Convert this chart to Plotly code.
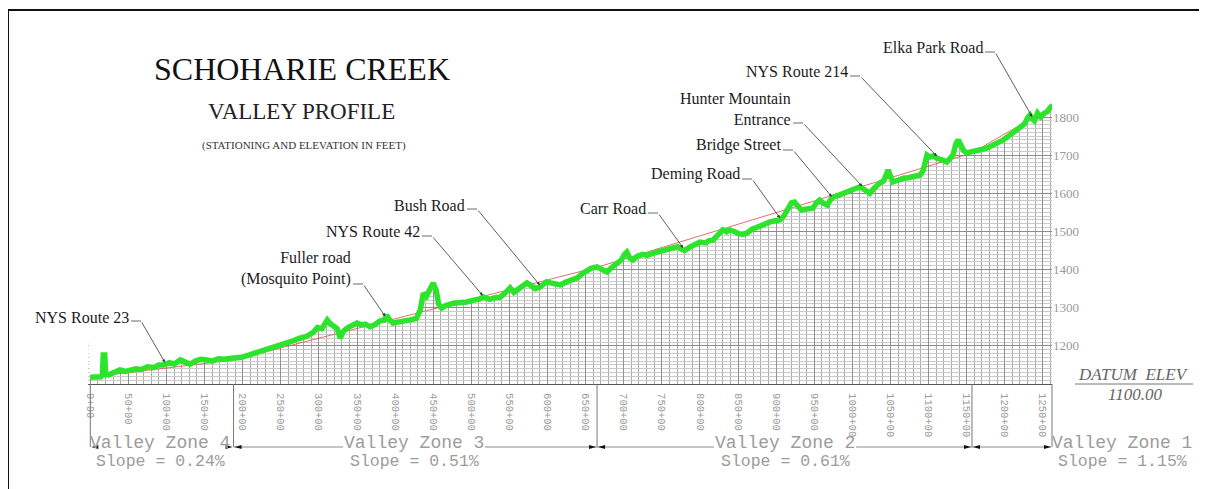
import plotly.graph_objects as go
import numpy as np

# ---------------- data ----------------
stations = [0, 8, 14, 16, 17, 19, 20, 24, 30, 39, 46, 52, 60, 67, 75, 83, 90, 96, 104, 110,
            118, 124, 131, 138, 145, 153, 160, 168, 176, 188, 198, 208, 218, 227, 236, 246,
            258, 266, 275, 284, 293, 298, 304, 311, 315, 319, 324, 328, 332, 337, 343, 350,
            356, 361, 367, 373, 380, 386, 389, 392, 397, 405, 412, 420, 428, 433, 437, 441,
            446, 450, 454, 457, 461, 466, 476, 485, 494, 503, 510, 516, 524, 531, 538, 544,
            551, 556, 561, 566, 573, 579, 584, 590, 595, 599, 604, 610, 617, 625, 632, 639,
            646, 652, 657, 665, 671, 678, 684, 691, 697, 701, 704, 708, 712, 718, 725, 731,
            738, 745, 752, 758, 765, 771, 776, 780, 786, 792, 800, 807, 812, 817, 822, 826,
            830, 835, 839, 845, 851, 857, 862, 868, 874, 879, 886, 892, 899, 905, 910, 915,
            920, 924, 929, 933, 938, 944, 948, 953, 957, 962, 967, 971, 975, 982, 988, 993,
            999, 1005, 1010, 1014, 1019, 1023, 1028, 1032, 1036, 1041, 1045, 1047, 1050, 1053,
            1058, 1064, 1068, 1072, 1078, 1084, 1089, 1093, 1096, 1098, 1102, 1106, 1111, 1116,
            1120, 1124, 1128, 1132, 1136, 1139, 1142, 1146, 1150, 1156, 1162, 1168, 1177, 1184,
            1191, 1198, 1205, 1212, 1220, 1226, 1230, 1233, 1236, 1239, 1243, 1247, 1251, 1256,
            1260, 1263]
elevations = [1118, 1120, 1119, 1125, 1176, 1176, 1125, 1124, 1128, 1137, 1133, 1136, 1140, 1138,
              1145, 1143, 1150, 1150, 1156, 1152, 1163, 1158, 1152, 1160, 1165, 1163, 1160, 1166,
              1165, 1168, 1170, 1176, 1182, 1189, 1192, 1200, 1207, 1213, 1220, 1225, 1236, 1248,
              1245, 1268, 1258, 1250, 1245, 1220, 1238, 1247, 1252, 1260, 1255, 1257, 1250, 1255,
              1265, 1268, 1281, 1270, 1260, 1262, 1263, 1268, 1272, 1294, 1338, 1330, 1350, 1365,
              1345, 1310, 1299, 1305, 1312, 1312, 1315, 1320, 1322, 1328, 1322, 1326, 1328, 1338,
              1352, 1340, 1350, 1355, 1365, 1358, 1350, 1354, 1362, 1368, 1365, 1364, 1360, 1368,
              1373, 1378, 1390, 1397, 1403, 1407, 1400, 1394, 1405, 1417, 1425, 1440, 1446, 1430,
              1425, 1435, 1440, 1437, 1443, 1447, 1450, 1454, 1456, 1460, 1453, 1450, 1458, 1465,
              1472, 1470, 1476, 1477, 1488, 1496, 1504, 1499, 1504, 1500, 1494, 1493, 1496, 1505,
              1510, 1517, 1522, 1525, 1528, 1530, 1540, 1560, 1575, 1577, 1565, 1556, 1558, 1560,
              1561, 1575, 1582, 1574, 1569, 1582, 1590, 1595, 1600, 1603, 1608, 1612, 1617, 1612,
              1604, 1600, 1612, 1622, 1627, 1632, 1650, 1661, 1645, 1630, 1633, 1638, 1640, 1640,
              1643, 1646, 1648, 1660, 1690, 1700, 1695, 1698, 1692, 1690, 1686, 1682, 1690, 1700,
              1730, 1740, 1728, 1712, 1706, 1708, 1712, 1714, 1719, 1725, 1732, 1740, 1750, 1760,
              1771, 1782, 1798, 1805, 1795, 1790, 1810, 1800, 1808, 1815, 1825, 1831]

trend_stations = [0, 188, 665, 1157, 1262]
trend_elevations = [1118, 1163, 1406, 1706, 1827]

landmark_names = ["NYS Route 23", "Fuller road<br>(Mosquito Point)", "NYS Route 42", "Bush Road",
                  "Carr Road", "Deming Road", "Bridge Street", "Hunter Mountain<br>Entrance",
                  "NYS Route 214", "Elka Park Road"]
landmark_stations = [98, 387, 515, 590, 778, 905, 973, 1013, 1111, 1236]

tick_stations = list(range(0, 1251, 50))
tick_labels = [f"{s}+00" for s in tick_stations]
elev_ticks = list(range(1200, 1801, 100))

zone_names = ["Valley Zone 4", "Valley Zone 3", "Valley Zone 2", "Valley Zone 1"]
zone_slopes = ["Slope = 0.24%", "Slope = 0.51%", "Slope = 0.61%", "Slope = 1.15%"]
zone_bounds = [0, 188, 665, 1157, 1262]

# ---------------- layout geometry (screen pixels) ----------------
OFF = 8                      # page body margin offsets the figure
W, H = 1207 - OFF, 489 - OFF
PL, PR, PT, PB = 88, 1052, 12, 384
X0, X1 = -3, 1262
PX_PER_FT = 267 / 700
Y0 = 1100
Y1 = Y0 + (PB - PT) / PX_PER_FT


def sx(st):
    return PL + (st - X0) * (PR - PL) / (X1 - X0)


def px2st(px):
    return X0 + (px - PL) * (X1 - X0) / (PR - PL)


def py2el(py):
    return Y0 + (PB - py) / PX_PER_FT


def xp(px):
    return (px - PL) / (PR - PL)


def yp(py):
    return (PB - py) / (PB - PT)


SERIF = "Liberation Serif"
CAD = "Liberation Mono"
CAD_COLOR = "#9c9c9c"

fig = go.Figure()

# white mask hides the grid above the profile
fig.add_trace(go.Scatter(
    x=stations + [X1 + 30, X0 - 30], y=elevations + [Y1 + 200, Y1 + 200],
    fill="toself", fillcolor="white", mode="lines", line=dict(width=0),
    hoverinfo="skip"))

fig.add_trace(go.Scatter(x=trend_stations, y=trend_elevations, mode="lines",
                         line=dict(color="#e04848", width=0.8), hoverinfo="skip"))

fig.add_trace(go.Scatter(x=stations, y=elevations, mode="lines",
                         line=dict(color="#2de42d", width=5.5), cliponaxis=False))

ann = []
shapes = []

# titles
ann.append(dict(text="SCHOHARIE CREEK", x=xp(302), y=yp(69), font=dict(family=SERIF, size=32, color="#111")))
ann.append(dict(text="VALLEY PROFILE", x=xp(301), y=yp(111), font=dict(family=SERIF, size=23, color="#222")))
ann.append(dict(text="(STATIONING AND ELEVATION IN FEET)", x=xp(304), y=yp(145),
                font=dict(family=SERIF, size=11, color="#333")))

# landmark labels + leaders
label_right_px = [131, 353, 422, 467, 648, 742, 783, 793, 850, 985]
label_mid_py = [317, 268, 232, 205, 208, 174, 145, 108.5, 72, 47]
underline_py = [321, 284, 236, 209, 213, 179, 150, 123, 76, 52]
tip_elev = np.interp(landmark_stations, stations, elevations)
for name, st, el, r, m, u in zip(landmark_names, landmark_stations, tip_elev,
                                 label_right_px, label_mid_py, underline_py):
    ann.append(dict(text=name, x=xp(r), y=yp(m), xanchor="right", yanchor="middle", align="right",
                    font=dict(family=SERIF, size=16, color="#1c1c1c")))
    shapes.append(dict(type="line", xref="paper", yref="paper", x0=xp(r), x1=xp(r + 10),
                       y0=yp(u), y1=yp(u), line=dict(color="#444", width=0.8)))
    ann.append(dict(text="", x=st, y=el + 5, xref="x", yref="y",
                    ax=px2st(r + 10), ay=py2el(u), axref="x", ayref="y",
                    showarrow=True, arrowhead=2, arrowsize=0.8, arrowwidth=0.8,
                    arrowcolor="#333", standoff=0))

# valley zones below the axis
DIM_PY = 447
zone_text_cx = [160, 414, 785, 1122]
for i, (zn, zs) in enumerate(zip(zone_names, zone_slopes)):
    b0, b1 = sx(zone_bounds[i]), sx(zone_bounds[i + 1])
    cx = zone_text_cx[i]
    ann.append(dict(text=zn, x=xp(cx), y=yp(443), font=dict(family=CAD, size=18, color=CAD_COLOR)))
    ann.append(dict(text=zs, x=xp(cx), y=yp(461), font=dict(family=CAD, size=16.5, color=CAD_COLOR)))
    segs = [(b0, min(cx - 71, b1)), (max(cx + 71, b0), b1)]
    for a, b in segs:
        if b - a > 3:
            shapes.append(dict(type="line", xref="paper", yref="paper", x0=xp(a), x1=xp(b),
                               y0=yp(DIM_PY), y1=yp(DIM_PY), line=dict(color="#8a8a8a", width=1)))
    for tip, d in ((b0 + 1, 1), (b1 - 1, -1)):
        path = (f"M {xp(tip)} {yp(DIM_PY)} L {xp(tip + d * 7)} {yp(DIM_PY - 2)} "
                f"L {xp(tip + d * 7)} {yp(DIM_PY + 2)} Z")
        shapes.append(dict(type="path", xref="paper", yref="paper", path=path,
                           fillcolor="#111", line=dict(width=0)))
for b in zone_bounds:
    shapes.append(dict(type="line", xref="paper", yref="paper", x0=xp(sx(b)), x1=xp(sx(b)),
                       y0=yp(PB), y1=yp(DIM_PY), line=dict(color="#777", width=1)))

# datum
ann.append(dict(text="<i>DATUM\u00a0\u00a0ELEV</i>", x=xp(1133), y=yp(374),
                font=dict(family=SERIF, size=17, color="#666")))
shapes.append(dict(type="line", xref="paper", yref="paper", x0=xp(1075), x1=xp(1193),
                   y0=yp(384), y1=yp(384), line=dict(color="#777", width=1)))
ann.append(dict(text="<i>1100.00</i>", x=xp(1135), y=yp(394),
                font=dict(family=SERIF, size=17, color="#666")))

# drawing frame
shapes.append(dict(type="rect", xref="paper", yref="paper", x0=xp(8), x1=xp(1225),
                   y0=yp(10), y1=yp(520), line=dict(color="#111", width=2)))

for a in ann:
    a.setdefault("xref", "paper")
    a.setdefault("yref", "paper")
    a.setdefault("showarrow", False)
    a.setdefault("xanchor", "center")
    a.setdefault("yanchor", "middle")

fig.update_layout(
    width=W, height=H, autosize=False,
    margin=dict(l=PL - OFF, r=(W + OFF) - PR, t=PT - OFF, b=(H + OFF) - PB),
    paper_bgcolor="white", plot_bgcolor="white",
    showlegend=False,
    annotations=ann, shapes=shapes,
    xaxis=dict(range=[X0, X1], tickmode="array", tickvals=tick_stations, ticktext=tick_labels,
               tickangle=90, tickfont=dict(family=CAD, size=10.5, color=CAD_COLOR),
               ticks="", ticklabelstandoff=6,
               showgrid=True, gridcolor="#939393", gridwidth=1,
               minor=dict(tickmode="linear", tick0=0, dtick=10, showgrid=True,
                          gridcolor="#ababab", gridwidth=1),
               zeroline=False, showline=True, linecolor="#555", linewidth=1),
    yaxis=dict(range=[Y0, Y1], side="right", tickmode="array", tickvals=elev_ticks,
               tickfont=dict(family=SERIF, size=13, color="#999"), ticks="",
               ticklabelstandoff=0,
               showgrid=True, gridcolor="#8c8c8c", gridwidth=1,
               minor=dict(tickmode="linear", tick0=1100, dtick=10, showgrid=True,
                          gridcolor="#cacaca", gridwidth=1),
               zeroline=False, showline=False),
)

fig.write_html("out.html")
